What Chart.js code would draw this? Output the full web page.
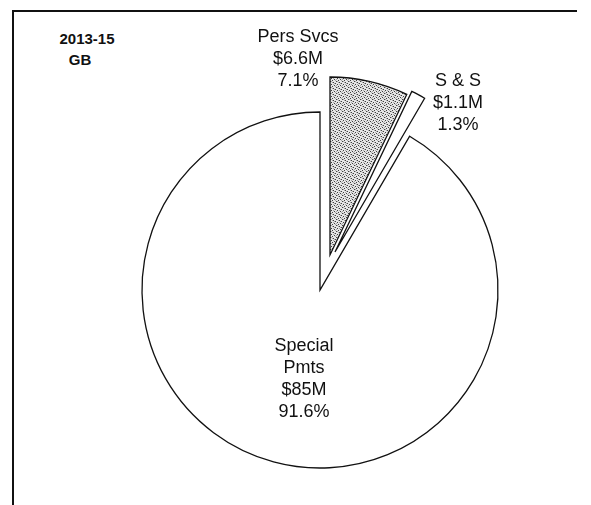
<!DOCTYPE html>
<html>
<head>
<meta charset="utf-8">
<script src="https://cdn.jsdelivr.net/npm/chart.js@4"></script>
<style>
  body { margin: 0; background: #fff; width: 591px; height: 505px; overflow: hidden; position: relative;
         font-family: "Liberation Sans", Arial, sans-serif; color: #111; }
  #frame { position: absolute; left: 12px; top: 10px; width: 563px; height: 500px;
           border-top: 2px solid #111; border-left: 2px solid #111; }
  canvas { position: absolute; }
  .lbl { position: absolute; font-size: 18px; line-height: 22px; text-align: center;
         white-space: nowrap; transform: translateX(-50%); }
  .ttl { position: absolute; font-size: 15px; font-weight: bold; line-height: 21px;
         white-space: nowrap; transform: translateX(-50%); }
</style>
</head>
<body>
<div id="frame"></div>
<script>
// data
const sliceLabels = [['Pers Svcs'], ['S & S'], ['Special', 'Pmts']];
const amounts = ['$6.6M', '$1.1M', '$85M'];
const shares = [7.1, 1.3, 91.6];
const titleLines = ['2013-15', 'GB'];

// layout: each slice is pulled out of the pie, so each gets its own centre
const sliceCenters = [[330, 255], [335, 252], [320, 290]];
const labelPos = [[298, 25], [458, 69], [304, 334]];
const titlePos = [[87, 28], [80, 49]];
const SIZE = 420, R = 178;

// stippled grey for Pers Svcs
function stipple() {
  const c = document.createElement('canvas');
  c.width = 6; c.height = 6;
  const g = c.getContext('2d');
  g.fillStyle = '#e6e6e6';
  g.fillRect(0, 0, 6, 6);
  g.fillStyle = '#404040';
  [[0,0],[3,1],[1,3],[4,4],[2,5],[5,2]].forEach(p => g.fillRect(p[0], p[1], 1, 1));
  g.fillStyle = '#a8a8a8';
  [[1,0],[4,2],[0,4],[3,3],[5,5],[2,1]].forEach(p => g.fillRect(p[0], p[1], 1, 1));
  return g.createPattern(c, 'repeat');
}
const fills = [stipple(), '#ffffff', '#ffffff'];

sliceCenters.forEach((c, i) => {
  const cv = document.createElement('canvas');
  cv.width = SIZE; cv.height = SIZE;
  cv.style.left = (c[0] - SIZE / 2) + 'px';
  cv.style.top = (c[1] - SIZE / 2) + 'px';
  document.body.appendChild(cv);
  new Chart(cv, {
    type: 'pie',
    data: {
      labels: sliceLabels.map(l => l.join(' ')),
      datasets: [{
        data: shares,
        radius: R,
        backgroundColor: shares.map((_, j) => j === i ? fills[j] : 'rgba(0,0,0,0)'),
        borderColor: '#111',
        borderWidth: shares.map((_, j) => j === i ? 1.3 : 0),
        borderJoinStyle: 'miter'
      }]
    },
    options: {
      responsive: false,
      animation: false,
      events: [],
      plugins: { legend: { display: false }, tooltip: { enabled: false } }
    }
  });
});

sliceLabels.forEach((l, i) => {
  const d = document.createElement('div');
  d.className = 'lbl';
  d.style.left = labelPos[i][0] + 'px';
  d.style.top = labelPos[i][1] + 'px';
  d.innerHTML = l.concat([amounts[i], shares[i].toFixed(1) + '%']).join('<br>');
  document.body.appendChild(d);
});

titleLines.forEach((t, i) => {
  const d = document.createElement('div');
  d.className = 'ttl';
  d.style.left = titlePos[i][0] + 'px';
  d.style.top = titlePos[i][1] + 'px';
  d.textContent = t;
  document.body.appendChild(d);
});
</script>
</body>
</html>
